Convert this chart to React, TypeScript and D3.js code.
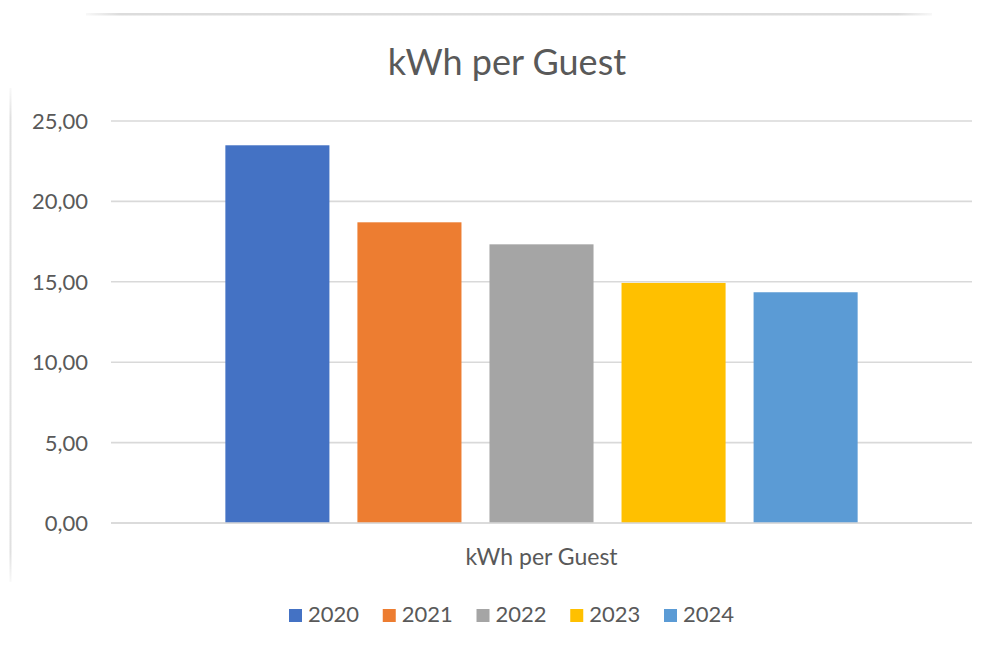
import { useEffect, useRef } from 'react';
import * as d3 from 'd3';

const title = 'kWh per Guest';
const category = 'kWh per Guest';
const years = ['2020', '2021', '2022', '2023', '2024'];
const values = [23.49, 18.7, 17.33, 14.93, 14.35];
const colors = ['#4472C4', '#ED7D31', '#A5A5A5', '#FFC000', '#5B9BD5'];
const yTicks = [0, 5, 10, 15, 20, 25];

const App = () => {
  const ref = useRef<SVGSVGElement>(null);

  useEffect(() => {
    const svg = d3.select(ref.current);
    svg.selectAll('*').remove();

    const font = 'Lato, "Open Sans", sans-serif';
    const textColor = '#595959';
    const left = 111;
    const right = 972;
    const top = 121;
    const bottom = 523;

    // faint frame of the chart area, fading at its ends
    const defs = svg.append('defs');
    const hGrad = defs.append('linearGradient').attr('id', 'fadeH');
    hGrad.append('stop').attr('offset', '0%').attr('stop-color', '#dcdcdc').attr('stop-opacity', 0.2);
    hGrad.append('stop').attr('offset', '4%').attr('stop-color', '#dcdcdc').attr('stop-opacity', 1);
    hGrad.append('stop').attr('offset', '96%').attr('stop-color', '#dcdcdc').attr('stop-opacity', 1);
    hGrad.append('stop').attr('offset', '100%').attr('stop-color', '#dcdcdc').attr('stop-opacity', 0.2);
    const vGrad = defs.append('linearGradient')
      .attr('id', 'fadeV')
      .attr('x1', 0).attr('y1', 0).attr('x2', 0).attr('y2', 1);
    vGrad.append('stop').attr('offset', '0%').attr('stop-color', '#e0e0e0').attr('stop-opacity', 0.2);
    vGrad.append('stop').attr('offset', '6%').attr('stop-color', '#e0e0e0').attr('stop-opacity', 1);
    vGrad.append('stop').attr('offset', '94%').attr('stop-color', '#e0e0e0').attr('stop-opacity', 1);
    vGrad.append('stop').attr('offset', '100%').attr('stop-color', '#e0e0e0').attr('stop-opacity', 0.2);

    svg.append('rect')
      .attr('x', 86).attr('y', 13).attr('width', 846).attr('height', 2.5)
      .style('fill', 'url(#fadeH)');
    svg.append('rect')
      .attr('x', 9.5).attr('y', 88).attr('width', 2).attr('height', 494)
      .style('fill', 'url(#fadeV)');

    const y = d3.scaleLinear().domain([0, 25]).range([bottom, top]);

    const x0 = d3.scaleBand<string>()
      .domain([category])
      .range([left, right])
      .paddingInner(0)
      .paddingOuter(0.152);

    const x1 = d3.scaleBand<string>()
      .domain(years)
      .range([0, x0.bandwidth()])
      .paddingInner(0.212)
      .paddingOuter(0.106);

    // gridlines
    svg.append('g')
      .selectAll('line')
      .data(yTicks)
      .enter()
      .append('line')
      .attr('x1', left)
      .attr('x2', right)
      .attr('y1', (d) => y(d))
      .attr('y2', (d) => y(d))
      .style('stroke', '#d9d9d9')
      .style('stroke-width', 1.6);

    // y tick labels
    svg.append('g')
      .selectAll('text')
      .data(yTicks)
      .enter()
      .append('text')
      .attr('x', 88)
      .attr('y', (d) => y(d))
      .attr('dy', '0.36em')
      .attr('text-anchor', 'end')
      .style('font-family', font)
      .style('font-size', '22px')
      .style('fill', textColor)
      .text((d) => d3.format('.2f')(d).replace('.', ','));

    // bars
    const g = svg.append('g').attr('transform', `translate(${x0(category)}, 0)`);
    g.selectAll('rect')
      .data(values)
      .enter()
      .append('rect')
      .attr('x', (_d, i) => x1(years[i]) as number)
      .attr('y', (d) => y(d))
      .attr('width', x1.bandwidth())
      .attr('height', (d) => y(0) - y(d))
      .style('fill', (_d, i) => colors[i]);

    // zero line on top of bars
    svg.append('line')
      .attr('x1', left)
      .attr('x2', right)
      .attr('y1', y(0))
      .attr('y2', y(0))
      .style('stroke', '#d9d9d9')
      .style('stroke-width', 1.6);

    // title
    svg.append('text')
      .attr('x', 507)
      .attr('y', 75)
      .attr('text-anchor', 'middle')
      .style('font-family', font)
      .style('font-size', '36px')
      .style('fill', textColor)
      .text(title);

    // category label
    svg.append('text')
      .attr('x', (x0(category) as number) + x0.bandwidth() / 2)
      .attr('y', 565)
      .attr('text-anchor', 'middle')
      .style('font-family', font)
      .style('font-size', '23px')
      .style('fill', textColor)
      .text(category);

    // legend
    const itemW = 93.75;
    const legend = svg.append('g').attr('transform', 'translate(289, 0)');
    const item = legend.selectAll('g')
      .data(years)
      .enter()
      .append('g')
      .attr('transform', (_d, i) => `translate(${i * itemW}, 0)`);
    item.append('rect')
      .attr('x', 0)
      .attr('y', 609)
      .attr('width', 13)
      .attr('height', 13)
      .style('fill', (_d, i) => colors[i]);
    item.append('text')
      .attr('x', 19)
      .attr('y', 622)
      .style('font-family', font)
      .style('font-size', '22px')
      .style('fill', textColor)
      .text((d) => d);
  }, []);

  return (
    <svg
      ref={ref}
      width={988}
      height={645}
      style={{ position: 'absolute', left: 0, top: 0, background: '#fff' }}
    ></svg>
  );
};

export default App;
